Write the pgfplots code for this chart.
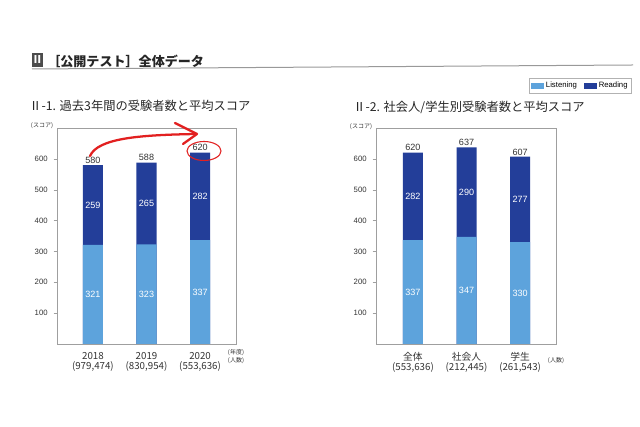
\documentclass[border=0pt]{standalone}
\usepackage{fontspec}
\setmainfont{Noto Sans CJK JP}
\newfontfamily\num{Liberation Sans}
\usepackage{pgfplots}
\pgfplotsset{compat=1.18}
\usepackage{pgfplotstable}

\definecolor{lb}{RGB}{93,163,220}
\definecolor{db}{RGB}{35,62,153}
\definecolor{redpen}{RGB}{226,32,32}
\definecolor{txt}{RGB}{51,51,51}

% scores per bar: Listening, Reading, total
\pgfplotstableread{
x L R T
0 321 259 580
1 323 265 588
2 337 282 620
}\yearsdata
\pgfplotstableread{
x L R T
0 337 282 620
1 347 290 637
2 330 277 607
}\groupdata

\pgfplotsset{
  scoreaxis/.style={
    anchor=south west, scale only axis, height=162pt,
    ymin=0, ymax=700, ytick={100,200,...,600},
    ytick pos=left, tick align=outside, major tick length=2.5pt,
    xtick=data, major x tick style={draw=none},
    axis line style={draw=gray!75}, tick style={gray!75},
    tick label style={text=txt, /pgf/number format/assume math mode=true},
    yticklabel style={font=\num\fontsize{5.8}{6}\selectfont, xshift=-1pt},
    xticklabel style={align=center, font=\fontsize{7.3}{7.6}\selectfont},
    clip=false,
  },
  bardark/.style={ybar, bar width=15pt, bar shift=0pt, fill=db, draw=none, forget plot},
  barlight/.style={ybar, bar width=15pt, bar shift=0pt, fill=lb, draw=none, forget plot},
  inlabel/.style={draw=none, mark=none, forget plot, nodes near coords,
    point meta=explicit symbolic,
    nodes near coords style={text=white, anchor=center, font=\num\fontsize{6.8}{7}\selectfont}},
  toplabel/.style={draw=none, mark=none, forget plot, nodes near coords,
    point meta=explicit symbolic,
    nodes near coords style={text=txt, anchor=south, inner sep=1pt, font=\num\fontsize{6.8}{7}\selectfont}},
}

\begin{document}
\begin{tikzpicture}
\fill[white] (0,0) rectangle (480pt,320.25pt);

% left chart: last three years
\begin{axis}[scoreaxis, at={(42.75pt,62.25pt)}, width=134.25pt,
  xmin=-0.67, xmax=2.67,
  xticklabels={{2018\\(979,474)},{2019\\(830,954)},{2020\\(553,636)}}]
\addplot[bardark] table[x=x, y=T] {\yearsdata};
\addplot[barlight] table[x=x, y=L] {\yearsdata};
\addplot[inlabel] table[x=x, y expr=\thisrow{L}/2, meta=L] {\yearsdata};
\addplot[inlabel] table[x=x, y expr=\thisrow{L}+\thisrow{R}/2, meta=R] {\yearsdata};
\addplot[toplabel] table[x=x, y=T, meta=T] {\yearsdata};
\end{axis}

% right chart: all / working adults / students
\begin{axis}[scoreaxis, at={(282pt,62.25pt)}, width=135pt,
  xmin=-0.69, xmax=2.67,
  xticklabels={{全体\\(553,636)},{社会人\\(212,445)},{学生\\(261,543)}},
  legend style={at={(1.42,1.233)}, anchor=north east, legend columns=2,
    draw=gray!60, inner sep=0.8pt, font=\num\fontsize{5.8}{6}\selectfont,
    /tikz/every even column/.style={column sep=3pt}}]
\addplot[bardark] table[x=x, y=T] {\groupdata};
\addplot[barlight] table[x=x, y=L] {\groupdata};
\addplot[inlabel] table[x=x, y expr=\thisrow{L}/2, meta=L] {\groupdata};
\addplot[inlabel] table[x=x, y expr=\thisrow{L}+\thisrow{R}/2, meta=R] {\groupdata};
\addplot[toplabel] table[x=x, y=T, meta=T] {\groupdata};
\addlegendimage{legend image code/.code={\fill[lb] (0pt,-2pt) rectangle (9pt,2pt);}}
\addlegendentry{Listening}
\addlegendimage{legend image code/.code={\fill[db] (0pt,-2pt) rectangle (9pt,2pt);}}
\addlegendentry{Reading}
\end{axis}

% page furniture in pixel units
\begin{scope}[x=0.75pt, y=-0.75pt, yshift=320.25pt]
\fill[black!70] (32,53) rectangle (43,67);
\node[white, font=\bfseries\fontsize{8}{8}\selectfont, inner sep=0pt] at (37.5,60) {Ⅱ};
\node[anchor=west, inner sep=0pt, font=\bfseries\fontsize{9.8}{10}\selectfont, text=black!85] at (47,61) {［公開テスト］全体データ};
\draw[gray!80, line width=0.75pt] (32,69) -- (633,65);
\node[anchor=west, inner sep=0pt, font=\fontsize{9.2}{10}\selectfont, text=black!85] at (29,106) {Ⅱ-1. 過去3年間の受験者数と平均スコア};
\node[anchor=west, inner sep=0pt, font=\fontsize{9.2}{10}\selectfont, text=black!85] at (353,107) {Ⅱ-2. 社会人/学生別受験者数と平均スコア};
\node[font=\fontsize{4.5}{5}\selectfont, text=txt, inner sep=0pt] at (42,126) {(スコア)};
\node[font=\fontsize{4.5}{5}\selectfont, text=txt, inner sep=0pt] at (361,127) {(スコア)};
\node[font=\fontsize{4.5}{5}\selectfont, text=txt, inner sep=0pt] at (236,353) {(年度)};
\node[font=\fontsize{4.5}{5}\selectfont, text=txt, inner sep=0pt] at (236,361) {(人数)};
\node[font=\fontsize{4.5}{5}\selectfont, text=txt, inner sep=0pt] at (556,361) {(人数)};
% red pen annotation
\draw[redpen, line width=1.7pt, line cap=round] (90,156) .. controls (98,138) and (140,135) .. (196,134);
\draw[redpen, line width=1.7pt, line cap=round, line join=round] (175,123) -- (197,134) -- (183,144);
\draw[redpen, line width=0.8pt] (204,151) ellipse [x radius=17, y radius=9.5];
\end{scope}
\end{tikzpicture}
\end{document}
